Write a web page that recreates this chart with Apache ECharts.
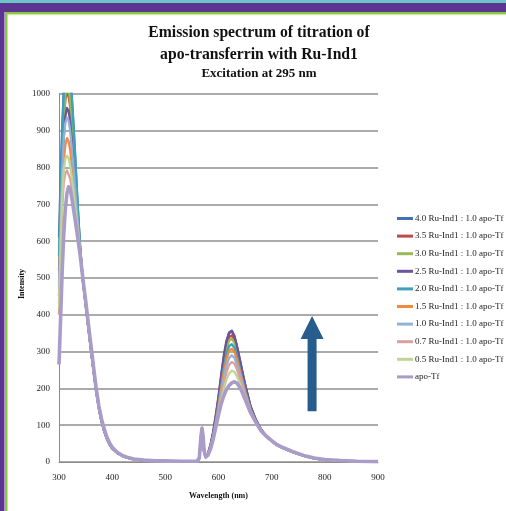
<!DOCTYPE html>
<html>
<head>
<meta charset="utf-8">
<script src="https://cdn.jsdelivr.net/npm/echarts@6/dist/echarts.min.js"></script>
<style>
  html, body { margin: 0; padding: 0; background: #ffffff; }
  #chart { width: 506px; height: 511px; }
</style>
</head>
<body>
<div id="chart"></div>
<script>
// Wavelength grid (nm) shared by every emission trace
const wavelength = [300,303,306,309,312,315,318,321,324,327,330,335,340,
  345,350,355,360,365,370,375,380,385,390,395,400,410,420,430,440,460,480,500,530,560,
  564,567,569,571,573,576,
  580,585,590,595,600,605,610,615,620,625,630,635,640,645,650,
  660,670,680,690,700,710,720,740,760,780,800,830,860,900];

const seriesNames = [
  '4.0 Ru-Ind1 : 1.0 apo-Tf',
  '3.5 Ru-Ind1 : 1.0 apo-Tf',
  '3.0 Ru-Ind1 : 1.0 apo-Tf',
  '2.5 Ru-Ind1 : 1.0 apo-Tf',
  '2.0 Ru-Ind1 : 1.0 apo-Tf',
  '1.5 Ru-Ind1 : 1.0 apo-Tf',
  '1.0 Ru-Ind1 : 1.0 apo-Tf',
  '0.7 Ru-Ind1 : 1.0 apo-Tf',
  '0.5 Ru-Ind1 : 1.0 apo-Tf',
  'apo-Tf'
];

// Emission intensity of each titration step
const ratio40 = [610,770,910,1010,1065,1090,1080,1045,990,920,840,700,580,
  492,430,368,306,247,192,146,110,84,63,48,37,24,16,11,8,4,3,2,2,1,
  10,66,88,66,27,13,
  22,46,80,125,175,232,285,325,350,355,340,312,278,243,210,
  152,115,88,70,57,46,39,27,17,10,6,3,2,1];
const ratio35 = [520,680,830,930,985,1002,995,965,915,860,790,680,575,
  494,433,370,308,249,194,148,112,86,65,49,38,25,16,11,8,4,3,2,2,1,
  11,68,90,67,28,13,
  21,44,78,122,170,226,278,317,340,344,332,306,272,238,206,
  150,113,87,70,57,46,39,27,17,10,6,3,2,1];
const ratio30 = [480,650,810,930,995,1025,1015,980,925,865,795,680,572,
  493,431,369,307,248,193,147,111,85,64,48,37,25,16,11,8,4,3,2,2,1,
  11,67,89,67,28,14,
  20,42,75,118,165,220,270,308,330,335,324,298,266,233,202,
  148,112,87,69,57,46,39,27,17,10,6,3,2,1];
const ratio25 = [450,620,780,885,940,962,955,925,875,820,760,665,570,
  492,430,368,306,247,192,146,110,84,63,48,37,24,16,11,8,4,3,2,2,1,
  10,66,88,66,27,13,
  22,47,82,128,178,236,290,330,352,357,343,314,280,245,212,
  153,116,89,71,58,46,39,27,17,10,6,3,2,1];
const ratio20 = [560,730,890,1005,1075,1105,1095,1055,995,925,845,700,578,
  493,431,369,307,248,193,147,111,85,64,48,37,25,16,11,8,4,3,2,2,1,
  11,68,90,68,28,14,
  20,41,72,112,157,208,256,292,315,320,310,286,256,225,196,
  145,111,86,69,57,46,39,27,17,10,6,3,2,1];
const ratio15 = [430,590,730,820,862,880,872,848,810,765,715,640,565,
  494,433,371,309,250,195,149,113,87,65,50,38,25,17,11,8,4,3,2,2,1,
  11,68,90,68,28,14,
  20,40,70,108,150,198,244,280,302,308,299,277,249,219,191,
  143,110,86,69,57,46,39,27,17,10,6,3,2,1];
const ratio10 = [470,640,790,880,922,936,928,900,855,805,750,655,568,
  495,435,373,311,251,196,150,114,88,66,50,39,25,17,12,8,5,3,2,2,1,
  11,69,91,69,29,14,
  19,38,67,103,142,186,228,262,283,290,283,264,239,212,186,
  141,109,85,69,57,46,39,27,17,10,6,4,2,1];
const ratio07 = [400,560,690,760,785,792,788,770,742,712,680,625,565,
  495,436,374,313,253,197,151,115,88,67,51,39,26,17,12,8,5,3,2,2,1,
  12,69,91,69,29,14,
  19,37,65,99,135,175,213,244,264,272,267,251,228,204,180,
  139,108,85,69,57,46,39,27,17,10,6,4,2,1];
const ratio05 = [420,580,720,795,825,832,826,805,775,740,700,635,565,
  496,438,376,315,255,198,151,115,89,67,51,40,26,17,12,8,5,3,2,2,1,
  12,69,91,69,29,14,
  18,36,63,96,130,166,198,225,241,248,245,232,214,194,172,
  137,108,85,69,57,46,39,27,17,10,6,4,2,1];
const apoTf = [265,390,520,620,690,730,748,742,718,690,662,612,560,
  497,440,378,318,258,200,152,116,90,68,52,40,26,17,12,8,5,3,3,2,2,
  12,70,92,70,30,14,
  18,35,62,95,128,158,180,197,208,215,218,214,203,188,170,
  135,108,85,70,58,47,40,28,18,11,7,4,2,1];

const seriesValues = [ratio40, ratio35, ratio30, ratio25, ratio20, ratio15, ratio10, ratio07, ratio05, apoTf];

// Axis ticks
const xTicks = [300, 400, 500, 600, 700, 800, 900];
const yTicks = [0, 100, 200, 300, 400, 500, 600, 700, 800, 900, 1000];

// Arrow annotation (wavelength, intensity from -> to)
const arrowWavelength = 776;
const arrowFrom = 138;
const arrowTo = 397;
const arrowHeadBase = 334;

const lineColors = ['#4470b5', '#be4b48', '#98b954', '#6e529a', '#3fa0bb',
  '#f28a3c', '#93b0d6', '#daa09d', '#bfd597', '#aa9cc9'];

const serif = '"Liberation Serif", "DejaVu Serif", serif';

const chart = echarts.init(document.getElementById('chart'), null, { renderer: 'canvas' });

const series = seriesNames.map((name, k) => ({
  name: name,
  type: 'line',
  symbol: 'none',
  clip: true,
  data: wavelength.map((w, i) => [w, seriesValues[k][i]]),
  lineStyle: { width: k === 9 ? 3.6 : 2.3, color: lineColors[k], join: 'round' },
  itemStyle: { color: lineColors[k] },
  z: 2 + k
}));

const option = {
  animation: false,
  backgroundColor: '#ffffff',
  grid: { left: 59, right: 128, top: 94, bottom: 49, containLabel: false },
  legend: {
    orient: 'vertical',
    left: 397,
    top: 213,
    padding: 0,
    itemWidth: 16,
    itemHeight: 3,
    itemGap: 6.6,
    icon: 'rect',
    data: seriesNames,
    textStyle: { fontFamily: serif, fontSize: 9, color: '#222', lineHeight: 11, padding: [0, 0, 0, -3] }
  },
  xAxis: {
    type: 'value',
    min: xTicks[0],
    max: xTicks[xTicks.length - 1],
    interval: 100,
    name: 'Wavelength (nm)',
    nameLocation: 'middle',
    nameGap: 30,
    nameTextStyle: { fontFamily: serif, fontSize: 8, fontWeight: 'bold', color: '#111' },
    axisLine: { lineStyle: { color: '#8c8c8c', width: 1 } },
    axisTick: { show: false },
    axisLabel: { fontFamily: serif, fontSize: 9, color: '#222', margin: 11, formatter: v => String(v) },
    splitLine: { show: false }
  },
  yAxis: {
    type: 'value',
    min: yTicks[0],
    max: yTicks[yTicks.length - 1],
    interval: 100,
    axisLine: { show: true, lineStyle: { color: '#8c8c8c', width: 1 } },
    axisTick: { show: false },
    axisLabel: { fontFamily: serif, fontSize: 9, color: '#222', margin: 9, formatter: v => String(v) },
    splitLine: { show: true, lineStyle: { color: '#8f8f8f', width: 1.5 } }
  },
  series: series
};

chart.setOption(option);

// Arrow and frame drawn on top, arrow anchored in data coordinates
const tail = chart.convertToPixel({ gridIndex: 0 }, [arrowWavelength, arrowFrom]);
const tip = chart.convertToPixel({ gridIndex: 0 }, [arrowWavelength, arrowTo]);
const base = chart.convertToPixel({ gridIndex: 0 }, [arrowWavelength, arrowHeadBase]);
const cx = tip[0];
const shaftHalf = 4.5;
const headHalf = 11.5;

chart.setOption({
  graphic: [
    // page frame bands
    { type: 'rect', shape: { x: 0, y: 0, width: 506, height: 3 }, style: { fill: '#6ec3c8' }, silent: true },
    { type: 'rect', shape: { x: 0, y: 3, width: 506, height: 9 }, style: { fill: '#5c3492' }, silent: true },
    { type: 'rect', shape: { x: 5, y: 12, width: 501, height: 2.3 }, style: { fill: '#8dc641' }, silent: true },
    { type: 'rect', shape: { x: 5, y: 14.3, width: 501, height: 1 }, style: { fill: '#cde7a8' }, silent: true },
    { type: 'rect', shape: { x: 0, y: 3, width: 4.5, height: 508 }, style: { fill: '#5c3492' }, silent: true },
    { type: 'rect', shape: { x: 5, y: 12, width: 2.5, height: 499 }, style: { fill: '#8dc641' }, silent: true },
    // titles
    { type: 'text', x: 259, y: 33, style: { text: 'Emission spectrum of titration of', font: 'bold 15.7px ' + serif, fill: '#111', align: 'center', verticalAlign: 'middle' } },
    { type: 'text', x: 259, y: 55, style: { text: 'apo-transferrin with Ru-Ind1', font: 'bold 15.7px ' + serif, fill: '#111', align: 'center', verticalAlign: 'middle' } },
    { type: 'text', x: 259, y: 74, style: { text: 'Excitation at 295 nm', font: 'bold 13px ' + serif, fill: '#111', align: 'center', verticalAlign: 'middle' } },
    // vertical axis title
    { type: 'text', x: 22, y: 284, rotation: Math.PI / 2, style: { text: 'Intensity', font: 'bold 8px ' + serif, fill: '#111', align: 'center', verticalAlign: 'middle' } },
    // upward arrow
    {
      type: 'polygon',
      z: 100,
      shape: {
        points: [
          [cx - shaftHalf, tail[1]], [cx + shaftHalf, tail[1]],
          [cx + shaftHalf, base[1]], [cx + headHalf, base[1]],
          [cx, tip[1]],
          [cx - headHalf, base[1]], [cx - shaftHalf, base[1]]
        ]
      },
      style: { fill: '#275c8e' }
    }
  ]
});
</script>
</body>
</html>
